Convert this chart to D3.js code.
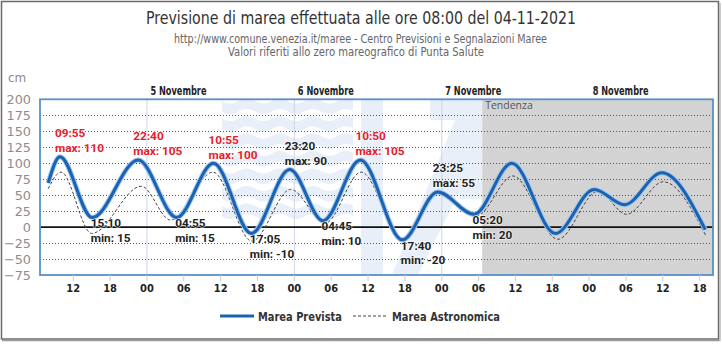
<!DOCTYPE html>
<html><head><meta charset="utf-8">
<script src="https://cdn.jsdelivr.net/npm/d3@7"></script>
<style>
html,body{margin:0;padding:0;background:#fff;}
svg{display:block;}
</style></head><body>
<svg id="chart" width="722" height="344"></svg>
<script>
// ---------------- DATA ----------------
const titleText = "Previsione di marea effettuata alle ore 08:00 del 04-11-2021";
const subtitle1 = "http://www.comune.venezia.it/maree - Centro Previsioni e Segnalazioni Maree";
const subtitle2 = "Valori riferiti allo zero mareografico di Punta Salute";
const yTicks = [200, 175, 150, 125, 100, 75, 50, 25, 0, -25, -50, -75];
const dayLabels = ["5 Novembre", "6 Novembre", "7 Novembre", "8 Novembre"];
const dayStarts = ["2021-11-05 00:00", "2021-11-06 00:00", "2021-11-07 00:00", "2021-11-08 00:00"];
const domainStart = "2021-11-04 06:40";
const domainEnd = "2021-11-08 20:15";
const trendStart = "2021-11-07 06:40";
const trendLabel = "Tendenza";

const prevTimes = ["2021-11-04 08:00", "2021-11-04 09:55", "2021-11-04 15:10", "2021-11-04 22:40",
  "2021-11-05 04:55", "2021-11-05 10:55", "2021-11-05 17:05", "2021-11-05 23:20",
  "2021-11-06 04:45", "2021-11-06 10:50", "2021-11-06 17:40", "2021-11-06 23:25",
  "2021-11-07 05:20", "2021-11-07 11:30", "2021-11-07 18:35", "2021-11-08 00:55",
  "2021-11-08 05:50", "2021-11-08 11:55", "2021-11-08 19:00"];
const prevValues = [69, 110, 15, 105, 15, 100, -10, 90, 10, 105, -20, 55, 20, 100, -10, 59, 35, 85, -4];

const astroTimes = ["2021-11-04 08:00", "2021-11-04 10:05", "2021-11-04 15:05", "2021-11-04 23:10",
  "2021-11-05 03:55", "2021-11-05 10:50", "2021-11-05 17:10", "2021-11-05 23:30",
  "2021-11-06 05:05", "2021-11-06 10:58", "2021-11-06 17:55", "2021-11-06 23:30",
  "2021-11-07 05:40", "2021-11-07 11:40", "2021-11-07 19:00", "2021-11-08 01:30",
  "2021-11-08 06:10", "2021-11-08 12:10", "2021-11-08 19:10"];
const astroValues = [60, 86, -10, 64, 11, 86, -22, 59, 6, 86, -22, 52, 17, 80, -19, 56, 20, 71, -15];

const labelTimes = ["2021-11-04 09:55", "2021-11-04 15:10", "2021-11-04 22:40", "2021-11-05 04:55",
  "2021-11-05 10:55", "2021-11-05 17:05", "2021-11-05 23:20", "2021-11-06 04:45",
  "2021-11-06 10:50", "2021-11-06 17:40", "2021-11-06 23:25", "2021-11-07 05:20"];
const labelValues = [110, 15, 105, 15, 100, -10, 90, 10, 105, -20, 55, 20];
const labelKinds = ["max", "min", "max", "min", "max", "min", "max", "min", "max", "min", "max", "min"];
const alertLevel = 100;

const legendNames = ["Marea Prevista", "Marea Astronomica"];

// ---------------- CHART ----------------
const parse = d3.timeParse("%Y-%m-%d %H:%M");
const svg = d3.select("#chart");
const W = 722, H = 344;
const plot = {l: 40, r: 713, t: 99.3, b: 275};
const narrow = "'Liberation Sans Narrow', 'DejaVu Sans Condensed', sans-serif";

const x = d3.scaleTime().domain([parse(domainStart), parse(domainEnd)]).range([plot.l, plot.r]);
const y = d3.scaleLinear().domain([-75, 200]).range([plot.b, plot.t]);

// helper: condensed text fitted to a measured width
function fitText(sel, width) {
  sel.attr("textLength", width).attr("lengthAdjust", "spacingAndGlyphs");
  return sel;
}

// outer frame
svg.append("rect").attr("x", 0).attr("y", 0).attr("width", W).attr("height", H).attr("fill", "#fff");
svg.append("rect").attr("x", 1.5).attr("y", 1.5).attr("width", 717).attr("height", 337.5)
  .attr("fill", "none").attr("stroke", "#6a6a6a").attr("stroke-width", 1.5);
svg.append("line").attr("x1", 2).attr("x2", 720).attr("y1", 340.5).attr("y2", 340.5).attr("stroke", "#9a9a9a").attr("stroke-width", 1.5);
svg.append("line").attr("x1", 720).attr("x2", 720).attr("y1", 3).attr("y2", 341).attr("stroke", "#bbb").attr("stroke-width", 1.5);

// titles
fitText(svg.append("text").attr("x", 146).attr("y", 24)
  .style("font-family", narrow).style("font-size", "17.5px").attr("fill", "#333").text(titleText), 430);
fitText(svg.append("text").attr("x", 174).attr("y", 43)
  .style("font-family", narrow).style("font-size", "11.5px").attr("fill", "#666").text(subtitle1), 373);
fitText(svg.append("text").attr("x", 228).attr("y", 56)
  .style("font-family", narrow).style("font-size", "11.5px").attr("fill", "#666").text(subtitle2), 256);

// plot background
const g = svg.append("g");
g.append("rect").attr("x", plot.l).attr("y", plot.t).attr("width", plot.r - plot.l).attr("height", plot.b - plot.t).attr("fill", "#fff");
g.append("rect").attr("x", x(parse(trendStart))).attr("y", plot.t)
  .attr("width", plot.r - x(parse(trendStart))).attr("height", plot.b - plot.t).attr("fill", "#d3d3d3");

// watermark (decorative logo)
const wm = g.append("g").attr("fill", "#4f86cc").attr("opacity", 0.12);
for (let i = 0; i < 7; i++) {
  const y0 = 101 + i * 17.5, th = 10.5, x0 = 222, x1 = 353, amp = 2.6, wl = 33;
  const top = d3.range(x0, x1 + 0.1, 1).map(xx => [xx, y0 + amp * Math.sin((xx - x0) / wl * 2 * Math.PI)]);
  const bot = top.slice().reverse().map(p => [p[0], p[1] + th]);
  wm.append("path").attr("d", d3.line()(top.concat(bot)) + "Z");
}
wm.append("rect").attr("x", 361).attr("y", plot.t).attr("width", 22).attr("height", plot.b - plot.t);
wm.append("path").attr("d", "M392,275 L418,275 L480,150 L480,99.3 L430,99.3 L430,120 L455,120 Z");
wm.append("rect").attr("x", 460).attr("y", plot.t).attr("width", 22).attr("height", 100);

// day separator lines
g.selectAll(".dayline").data(dayStarts).enter().append("line")
  .attr("x1", d => x(parse(d)) + 0.5).attr("x2", d => x(parse(d)) + 0.5)
  .attr("y1", plot.t).attr("y2", plot.b).attr("stroke", "#cbd6e2").attr("stroke-width", 1);

// horizontal dotted grid
g.selectAll(".grid").data(yTicks.filter(v => v !== 0 && v !== 200 && v !== -75)).enter().append("line")
  .attr("x1", plot.l).attr("x2", plot.r).attr("y1", d => Math.round(y(d)) + 0.5).attr("y2", d => Math.round(y(d)) + 0.5)
  .attr("stroke", "#555").attr("stroke-width", 1).attr("stroke-dasharray", "1,2");

// zero line
g.append("line").attr("x1", plot.l).attr("x2", plot.r).attr("y1", y(0)).attr("y2", y(0))
  .attr("stroke", "#111").attr("stroke-width", 1.8);

// tendenza label
g.append("text").attr("x", x(parse(trendStart)) + 3).attr("y", 109)
  .style("font-family", "'Open Sans', sans-serif").style("font-size", "10.5px").attr("fill", "#555").text(trendLabel);

// series
const prev = prevTimes.map((t, i) => ({t: parse(t), v: prevValues[i]}));
const astro = astroTimes.map((t, i) => ({t: parse(t), v: astroValues[i]}));
const line = d3.line().x(d => x(d.t)).y(d => y(d.v)).curve(d3.curveMonotoneX);

g.append("path").attr("d", line(astro)).attr("fill", "none").attr("stroke", "#444")
  .attr("stroke-width", 1).attr("stroke-dasharray", "3,2");
g.append("path").attr("d", line(prev)).attr("fill", "none").attr("stroke", "#9cc4ea")
  .attr("stroke-width", 5).attr("stroke-linejoin", "round");
g.append("path").attr("d", line(prev)).attr("fill", "none").attr("stroke", "#1c62b2")
  .attr("stroke-width", 3).attr("stroke-linejoin", "round");

// plot border
g.append("rect").attr("x", plot.l).attr("y", plot.t).attr("width", plot.r - plot.l).attr("height", plot.b - plot.t)
  .attr("fill", "none").attr("stroke", "#5a8fc8").attr("stroke-width", 1.8);

// extreme labels
const labFont = "Roboto, 'DejaVu Sans', sans-serif";
labelTimes.forEach((t, i) => {
  const px = x(parse(t)), py = y(labelValues[i]);
  const isMax = labelKinds[i] === "max";
  const col = isMax && labelValues[i] >= alertLevel ? "#e3202c" : "#222";
  const lx = isMax ? px - 5 : px - 1.5;
  const b1 = isMax ? py - 19.5 : py + 9.8;
  const b2 = isMax ? py - 4.5 : py + 24.3;
  const lines = [t.slice(11), labelKinds[i] + ": " + labelValues[i]];
  [b1, b2].forEach((b, k) => {
    g.append("text").attr("x", lx).attr("y", b)
      .style("font-family", labFont).style("font-size", "11.8px").style("font-weight", "bold")
      .attr("fill", col).attr("stroke", "#fff").attr("stroke-width", 1.2).attr("stroke-opacity", 0.8)
      .attr("paint-order", "stroke").text(lines[k]);
  });
});

// day labels
svg.selectAll(".daylab").data(dayStarts).enter().append("text")
  .attr("x", d => x(parse(d)) + 4).attr("y", 95)
  .style("font-family", narrow).style("font-size", "11.5px").style("font-weight", "bold")
  .attr("fill", "#222").attr("textLength", 56).attr("lengthAdjust", "spacingAndGlyphs")
  .text((d, i) => dayLabels[i]);

// x axis
const xAxis = d3.axisBottom(x).ticks(d3.timeHour.every(6)).tickFormat(d3.timeFormat("%H")).tickSize(6).tickPadding(3);
const xg = svg.append("g").attr("transform", `translate(0,${plot.b})`).call(xAxis);
xg.select(".domain").remove();
xg.selectAll(".tick line").attr("stroke", "#ccc");
xg.selectAll(".tick text").style("font-family", narrow).style("font-size", "11px").style("font-weight", "bold").attr("fill", "#222");

// y axis
const yAxis = d3.axisLeft(y).tickValues(yTicks).tickSize(0).tickPadding(9);
const yg = svg.append("g").attr("transform", `translate(${plot.l},0)`).call(yAxis);
yg.select(".domain").remove();
yg.selectAll(".tick text").style("font-family", "'DejaVu Sans', sans-serif").style("font-size", "12.8px").attr("fill", "#8c8c8c");
svg.append("text").attr("x", 8).attr("y", 82).style("font-family", "'DejaVu Sans', sans-serif")
  .style("font-size", "12px").attr("fill", "#8c8c8c").text("cm");

// legend
const lg = svg.append("g");
lg.append("line").attr("x1", 220).attr("x2", 254).attr("y1", 316).attr("y2", 316).attr("stroke", "#1c62b2").attr("stroke-width", 3);
fitText(lg.append("text").attr("x", 258).attr("y", 320.5).style("font-family", narrow).style("font-size", "13px")
  .style("font-weight", "bold").attr("fill", "#333").text(legendNames[0]), 84);
lg.append("line").attr("x1", 353).attr("x2", 388).attr("y1", 316).attr("y2", 316).attr("stroke", "#444")
  .attr("stroke-width", 1).attr("stroke-dasharray", "3,2");
fitText(lg.append("text").attr("x", 392).attr("y", 320.5).style("font-family", narrow).style("font-size", "13px")
  .style("font-weight", "bold").attr("fill", "#333").text(legendNames[1]), 108);
</script>
</body></html>
